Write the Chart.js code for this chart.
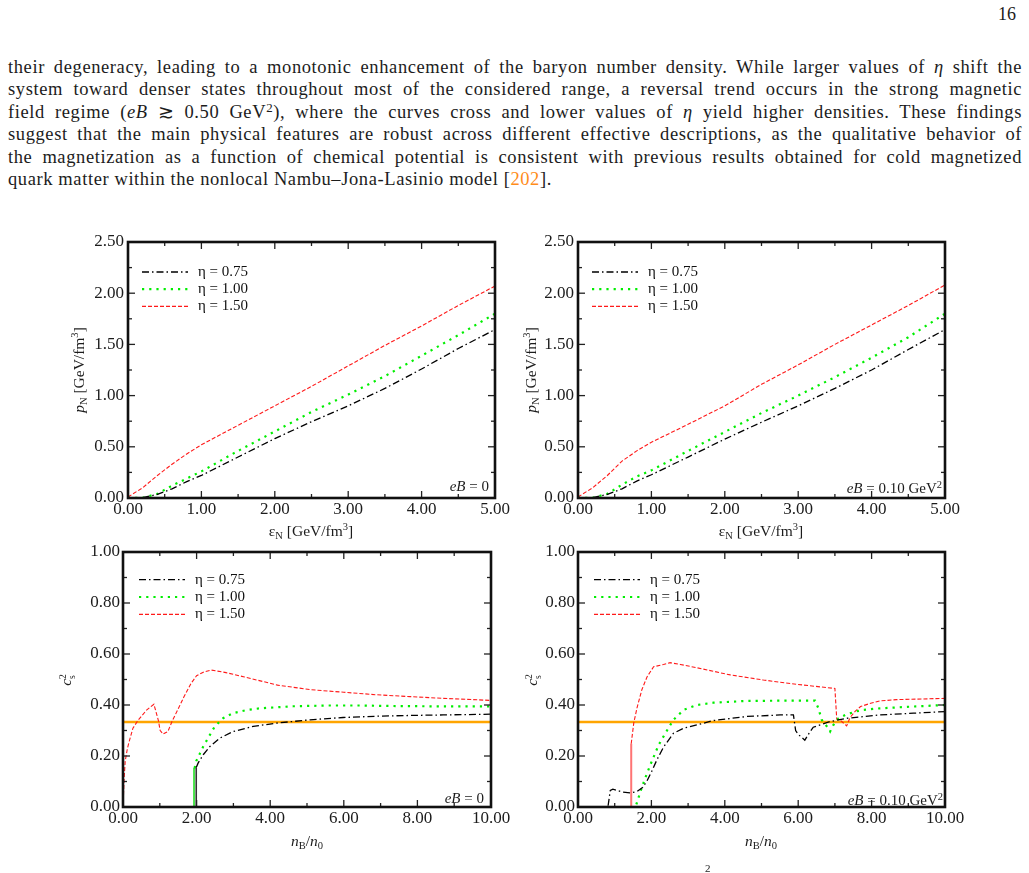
<!DOCTYPE html>
<html>
<head>
<meta charset="utf-8">
<script src="https://cdn.jsdelivr.net/npm/chart.js@4/dist/chart.umd.min.js"></script>
<style>
  body { margin: 0; background: #fff; width: 1029px; height: 873px; position: relative; overflow: hidden;
         font-family: "Liberation Serif", serif; color: #1c1c1c; }
  .ln { position: absolute; left: 8px; width: 1014px; font-size: 18.5px; line-height: 22px; white-space: nowrap;
        text-align: justify; text-align-last: justify; letter-spacing: 0.6px; }
  .ln.last { text-align-last: left; }
  sup { font-size: 0.7em; line-height: 0; vertical-align: 0.45em; }
  canvas { position: absolute; }
  .lab { position: absolute; font-size: 15.5px; white-space: nowrap; transform: translate(-50%, -50%); line-height: 1; }
  .lab.rot { transform: translate(-50%, -50%) rotate(-90deg); }
  .lab sub { font-size: 0.68em; vertical-align: -0.3em; line-height: 0; }
  .lab sup { font-size: 0.68em; vertical-align: 0.55em; }
  .ann { position: absolute; font-size: 15px; white-space: nowrap; transform: translate(-100%, -50%); line-height: 1; }
  .stk { display: inline-block; vertical-align: middle; font-size: 0.62em; line-height: 0.95; text-align: left; }
</style>
</head>
<body>
<div style="position:absolute;left:998px;top:4px;font-size:18px;">16</div>

<div class="ln" style="top:56px">their degeneracy, leading to a monotonic enhancement of the baryon number density. While larger values of <i>η</i> shift the</div>
<div class="ln" style="top:78.4px">system toward denser states throughout most of the considered range, a reversal trend occurs in the strong magnetic</div>
<div class="ln" style="top:100.8px">field regime (<i>eB</i> ≳ 0.50 GeV<sup>2</sup>), where the curves cross and lower values of <i>η</i> yield higher densities. These findings</div>
<div class="ln" style="top:123.2px">suggest that the main physical features are robust across different effective descriptions, as the qualitative behavior of</div>
<div class="ln" style="top:145.6px">the magnetization as a function of chemical potential is consistent with previous results obtained for cold magnetized</div>
<div class="ln last" style="top:168px">quark matter within the nonlocal Nambu–Jona-Lasinio model [<span style="color:#ff8c1a">202</span>].</div>

<canvas id="cTL"></canvas>
<canvas id="cTR"></canvas>
<canvas id="cBL"></canvas>
<canvas id="cBR"></canvas>

<!-- axis titles -->
<div class="lab rot" style="left:79px;top:370px"><i>p</i><sub>N</sub> [GeV/fm<sup>3</sup>]</div>
<div class="lab rot" style="left:531px;top:370px"><i>p</i><sub>N</sub> [GeV/fm<sup>3</sup>]</div>
<div class="lab" style="left:311px;top:531px">ε<sub>N</sub> [GeV/fm<sup>3</sup>]</div>
<div class="lab" style="left:761px;top:531px">ε<sub>N</sub> [GeV/fm<sup>3</sup>]</div>
<div class="lab rot" style="left:67px;top:680px"><i>c</i><span class="stk">2<br>s</span></div>
<div class="lab rot" style="left:533px;top:680px"><i>c</i><span class="stk">2<br>s</span></div>
<div class="lab" style="left:307px;top:841px"><i>n</i><sub>B</sub>/<i>n</i><sub>0</sub></div>
<div class="lab" style="left:761px;top:841px"><i>n</i><sub>B</sub>/<i>n</i><sub>0</sub></div>

<!-- panel notes -->
<div class="ann" style="left:489px;top:486px"><i>eB</i> = 0</div>
<div class="ann" style="left:942px;top:488px"><i>eB</i> = 0.10 GeV<sup>2</sup></div>
<div class="ann" style="left:484px;top:798px"><i>eB</i> = 0</div>
<div class="ann" style="left:943px;top:800px"><i>eB</i> = 0.10 GeV<sup>2</sup></div>

<div style="position:absolute;left:705px;top:862px;font-size:11px;">2</div>

<script>
// ---- top row: pressure vs energy density ----
const epsN = [0, 0.2, 0.4, 0.6, 0.8, 1.0, 1.5, 2.0, 2.5, 3.0, 3.5, 4.0, 4.5, 5.0];
const pEb0_075 = [0, 0.004, 0.035, 0.09, 0.16, 0.22, 0.40, 0.58, 0.745, 0.90, 1.07, 1.26, 1.46, 1.645];
const pEb0_100 = [0, 0.003, 0.04, 0.12, 0.19, 0.26, 0.46, 0.65, 0.84, 1.01, 1.19, 1.39, 1.59, 1.80];
const pEb0_150 = [0.01, 0.10, 0.22, 0.33, 0.43, 0.52, 0.71, 0.90, 1.09, 1.29, 1.49, 1.68, 1.88, 2.07];
const pEb10_075 = [0, 0.004, 0.035, 0.09, 0.165, 0.227, 0.40, 0.575, 0.74, 0.90, 1.07, 1.25, 1.45, 1.645];
const pEb10_100 = [0, 0.003, 0.04, 0.13, 0.21, 0.27, 0.46, 0.645, 0.83, 1.00, 1.18, 1.37, 1.57, 1.80];
const pEb10_150 = [0.01, 0.10, 0.22, 0.36, 0.46, 0.545, 0.72, 0.90, 1.11, 1.30, 1.50, 1.69, 1.88, 2.08];

// ---- bottom row: speed of sound squared vs n_B/n_0 ----
const cEb0_075_x = [1.99, 1.99, 2.04, 2.18, 2.36, 2.63, 2.99, 3.54, 4.17, 5.08, 5.98, 6.89, 7.80, 8.70, 10.0];
const cEb0_075_y = [0, 0.155, 0.172, 0.205, 0.237, 0.27, 0.296, 0.316, 0.329, 0.342, 0.351, 0.356, 0.359, 0.361, 0.364];
const cEb0_100_x = [1.93, 1.93, 1.95, 1.99, 2.09, 2.18, 2.31, 2.49, 2.72, 2.99, 3.35, 3.72, 4.62, 5.53, 6.44, 7.34, 8.25, 10.0];
const cEb0_100_y = [0, 0.155, 0.155, 0.18, 0.21, 0.237, 0.27, 0.315, 0.348, 0.368, 0.38, 0.387, 0.395, 0.398, 0.398, 0.396, 0.395, 0.395];
const cEb0_150_x = [0.0, 0.03, 0.06, 0.12, 0.18, 0.27, 0.41, 0.64, 0.84, 0.96, 1.01, 1.09, 1.22, 1.34, 1.5, 1.65, 1.85, 2.0, 2.2, 2.4, 2.8, 3.3, 4.2, 5.1, 6.0, 6.9, 7.8, 8.7, 10.0];
const cEb0_150_y = [0.0, 0.11, 0.18, 0.23, 0.263, 0.309, 0.34, 0.38, 0.403, 0.34, 0.30, 0.286, 0.296, 0.338, 0.385, 0.43, 0.485, 0.515, 0.53, 0.537, 0.527, 0.51, 0.478, 0.46, 0.45, 0.44, 0.433, 0.426, 0.418];

const cEb10_075_x = [0.82, 0.88, 0.95, 1.2, 1.42, 1.61, 1.75, 1.88, 2.01, 2.15, 2.33, 2.6, 2.88, 3.24, 3.69, 4.6, 5.51, 5.87, 5.93, 6.0, 6.18, 6.3, 6.41, 6.6, 6.87, 7.32, 8.23, 9.14, 10.0];
const cEb10_075_y = [0.005, 0.065, 0.07, 0.059, 0.055, 0.061, 0.075, 0.102, 0.14, 0.185, 0.235, 0.289, 0.309, 0.322, 0.339, 0.355, 0.361, 0.361, 0.30, 0.285, 0.262, 0.29, 0.313, 0.322, 0.335, 0.348, 0.361, 0.368, 0.374];
const cEb10_100_x = [1.59, 1.70, 1.83, 2.01, 2.20, 2.38, 2.60, 2.88, 3.24, 3.69, 4.60, 5.51, 6.46, 6.55, 6.64, 6.78, 6.87, 6.96, 7.10, 7.28, 7.55, 7.78, 8.23, 9.14, 10.0];
const cEb10_100_y = [0.01, 0.06, 0.113, 0.179, 0.244, 0.289, 0.342, 0.381, 0.40, 0.409, 0.416, 0.417, 0.417, 0.387, 0.342, 0.316, 0.296, 0.322, 0.348, 0.361, 0.374, 0.381, 0.387, 0.394, 0.40];
const cEb10_150_x = [1.45, 1.45, 1.52, 1.61, 1.74, 1.88, 2.06, 2.33, 2.51, 2.79, 3.24, 4.15, 5.05, 5.96, 7.0, 7.05, 7.15, 7.32, 7.41, 7.55, 7.7, 8.0, 8.23, 8.68, 10.0];
const cEb10_150_y = [0, 0.248, 0.33, 0.39, 0.46, 0.51, 0.55, 0.559, 0.566, 0.559, 0.546, 0.518, 0.498, 0.481, 0.465, 0.345, 0.34, 0.318, 0.35, 0.375, 0.394, 0.408, 0.416, 0.421, 0.426];

const conformalX = [0, 10];
const conformalY = [1 / 3, 1 / 3];

const etaLabels = ["η = 0.75", "η = 1.00", "η = 1.50"];
const epsTicks = [0, 1, 2, 3, 4, 5];
const pTicks = [0, 0.5, 1, 1.5, 2, 2.5];
const nTicks = [0, 2, 4, 6, 8, 10];
const csTicks = [0, 0.2, 0.4, 0.6, 0.8, 1];

Chart.defaults.font.family = '"Liberation Serif", "Times New Roman", serif';
Chart.defaults.color = "#1c1c1c";

const pts = (xs, ys) => xs.map((x, i) => ({ x: x, y: ys[i] }));

// line looks
const styleBlack = { borderColor: "#000", borderWidth: 1.3, borderDash: [7, 3, 1.5, 3] };
const styleGreen = { borderColor: "#00ee00", borderWidth: 2.2, borderDash: [2.2, 5] };
const styleRed = { borderColor: "#ff1a1a", borderWidth: 1.1, borderDash: [4, 2] };

// vertical jumps are drawn solid in the original
const vertSeg = (color, width) => ({
  borderDash: (c) => (c.p0.parsed.x === c.p1.parsed.x ? [] : undefined),
  borderColor: (c) => (c.p0.parsed.x === c.p1.parsed.x ? color : undefined),
  borderWidth: (c) => (c.p0.parsed.x === c.p1.parsed.x ? width : undefined),
});

function series(label, data, style, seg) {
  return Object.assign({ label: label, data: data, pointRadius: 0, tension: 0, fill: false,
    segment: seg || {} }, style);
}

function conformal() {
  return { label: "", data: pts(conformalX, conformalY), borderColor: "#ffa500", borderWidth: 2.6,
    pointRadius: 0, fill: false };
}

// frame, inside ticks on four sides and the in-plot legend
const paperFrame = {
  id: "paperFrame",
  afterDatasetsDraw(chart, args, o) {
    const ctx = chart.ctx, a = chart.chartArea, xs = chart.scales.x, ys = chart.scales.y;
    ctx.save();
    ctx.strokeStyle = "#222";
    ctx.lineWidth = 1.3;
    ctx.setLineDash([]);
    const seg = (x1, y1, x2, y2) => { ctx.beginPath(); ctx.moveTo(x1, y1); ctx.lineTo(x2, y2); ctx.stroke(); };
    for (let k = 0; xs.min + k * o.xMinor <= xs.max + 1e-9; k++) {
      const p = xs.getPixelForValue(xs.min + k * o.xMinor);
      const len = k % 2 === 0 ? 7 : 4;
      seg(p, a.bottom, p, a.bottom - len);
      seg(p, a.top, p, a.top + len);
    }
    for (let k = 0; ys.min + k * o.yMinor <= ys.max + 1e-9; k++) {
      const p = ys.getPixelForValue(ys.min + k * o.yMinor);
      const len = k % 2 === 0 ? 7 : 4;
      seg(a.left, p, a.left + len, p);
      seg(a.right, p, a.right - len, p);
    }
    ctx.lineWidth = 2.6;
    ctx.strokeStyle = "#111";
    ctx.strokeRect(a.left, a.top, a.right - a.left, a.bottom - a.top);

    // legend
    ctx.font = '15px "Liberation Serif", serif';
    ctx.textBaseline = "middle";
    ctx.fillStyle = "#111";
    let row = 0;
    chart.data.datasets.forEach((ds) => {
      if (!ds.label) return;
      const y = a.top + o.legY + row * o.legGap;
      const x = a.left + o.legX;
      ctx.strokeStyle = ds.borderColor;
      ctx.lineWidth = ds.borderWidth;
      ctx.setLineDash(ds.borderDash || []);
      seg(x, y, x + 46, y);
      ctx.setLineDash([]);
      ctx.fillText(ds.label, x + 56, y);
      row++;
    });
    ctx.restore();
  },
};

function panel(id, box, datasets, ax) {
  const padL = 80, padT = 15, padR = 25, padB = 50;
  const cv = document.getElementById(id);
  cv.width = box.w + padL + padR;
  cv.height = box.h + padT + padB;
  cv.style.left = box.x - padL + "px";
  cv.style.top = box.y - padT + "px";
  return new Chart(cv, {
    type: "line",
    data: { datasets: datasets },
    options: {
      responsive: false,
      animation: false,
      devicePixelRatio: 1,
      layout: { padding: { top: padT, right: padR, left: 0, bottom: 0 } },
      plugins: {
        legend: { display: false },
        tooltip: { enabled: false },
        paperFrame: { xMinor: ax.xMinor, yMinor: ax.yMinor, legX: ax.legX, legY: ax.legY, legGap: ax.legGap },
      },
      scales: {
        x: {
          type: "linear",
          min: ax.xTicks[0],
          max: ax.xTicks[ax.xTicks.length - 1],
          grid: { display: false, drawTicks: false },
          border: { display: false },
          afterBuildTicks: (s) => { s.ticks = ax.xTicks.map((v) => ({ value: v })); },
          afterFit: (s) => { s.height = padB; },
          ticks: { autoSkip: false, maxRotation: 0, padding: 1, color: "#1c1c1c", font: { size: 17 },
            callback: (v) => Number(v).toFixed(2) },
        },
        y: {
          type: "linear",
          min: ax.yTicks[0],
          max: ax.yTicks[ax.yTicks.length - 1],
          grid: { display: false, drawTicks: false },
          border: { display: false },
          afterBuildTicks: (s) => { s.ticks = ax.yTicks.map((v) => ({ value: v })); },
          afterFit: (s) => { s.width = padL; },
          ticks: { autoSkip: false, padding: ax.yPad, color: "#1c1c1c", font: { size: 17 },
            callback: (v) => Number(v).toFixed(2) },
        },
      },
    },
    plugins: [paperFrame],
  });
}

const topAx = { xTicks: epsTicks, yTicks: pTicks, xMinor: 0.5, yMinor: 0.25, legX: 14, legY: 30, legGap: 17.2, yPad: 4 };
const botAx = { xTicks: nTicks, yTicks: csTicks, xMinor: 1, yMinor: 0.1, legX: 16, legY: 27.6, legGap: 17.4, yPad: 3 };

panel("cTL", { x: 128, y: 242, w: 367, h: 256 }, [
  series(etaLabels[0], pts(epsN, pEb0_075), styleBlack),
  series(etaLabels[1], pts(epsN, pEb0_100), styleGreen),
  series(etaLabels[2], pts(epsN, pEb0_150), styleRed),
], topAx);

panel("cTR", { x: 578, y: 242, w: 367, h: 256 }, [
  series(etaLabels[0], pts(epsN, pEb10_075), styleBlack),
  series(etaLabels[1], pts(epsN, pEb10_100), styleGreen),
  series(etaLabels[2], pts(epsN, pEb10_150), styleRed),
], topAx);

panel("cBL", { x: 123, y: 552, w: 368, h: 255 }, [
  series(etaLabels[0], pts(cEb0_075_x, cEb0_075_y), styleBlack, vertSeg("#333", 1.6)),
  series(etaLabels[1], pts(cEb0_100_x, cEb0_100_y), styleGreen, vertSeg("#22dd22", 1.6)),
  series(etaLabels[2], pts(cEb0_150_x, cEb0_150_y), styleRed),
  conformal(),
], botAx);

panel("cBR", { x: 578, y: 552, w: 367, h: 255 }, [
  series(etaLabels[0], pts(cEb10_075_x, cEb10_075_y), styleBlack),
  series(etaLabels[1], pts(cEb10_100_x, cEb10_100_y), styleGreen),
  series(etaLabels[2], pts(cEb10_150_x, cEb10_150_y), styleRed, vertSeg("rgba(255,70,70,0.75)", 2)),
  conformal(),
], botAx);
</script>
</body>
</html>
